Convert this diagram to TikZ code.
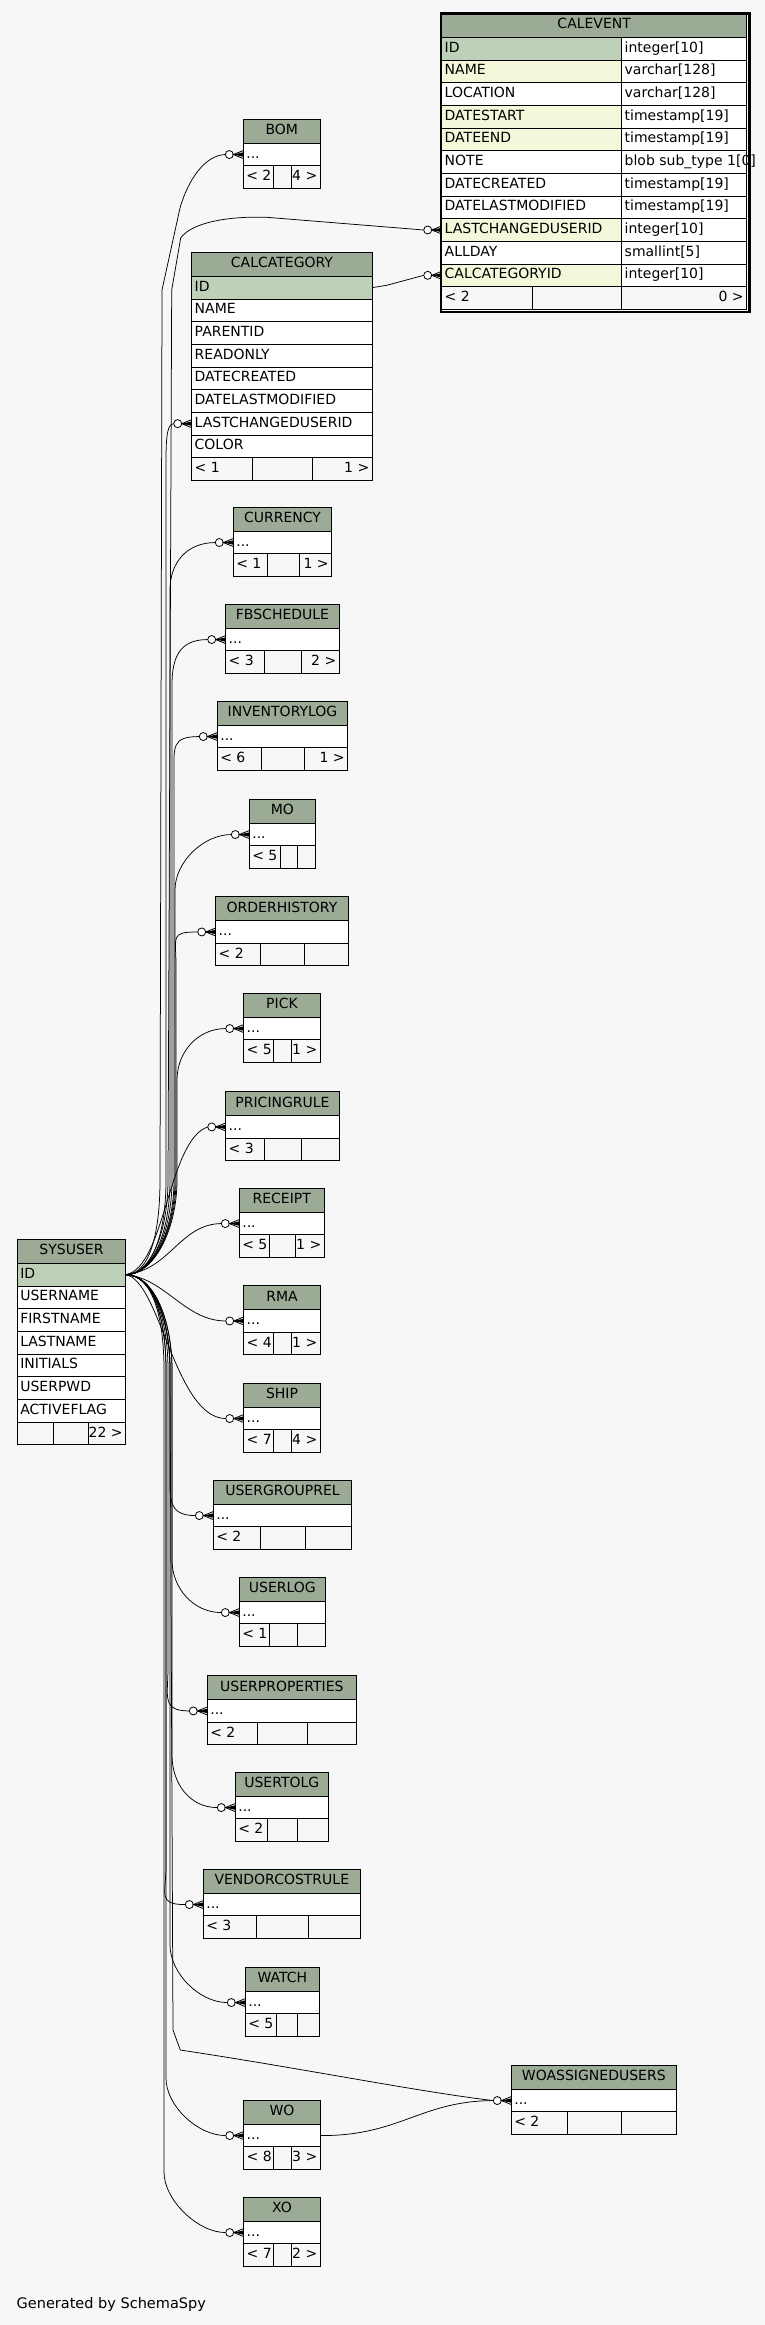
\documentclass[tikz,border=0pt]{standalone}
\usepackage{fontspec}
\setmainfont{DejaVu Sans}
\definecolor{bg}{HTML}{F7F7F7}
\definecolor{hd}{HTML}{9CAB96}
\definecolor{pk}{HTML}{BED1B8}
\definecolor{ix}{HTML}{F4F7DA}
\newcommand\cellL[7]{%
 \node[cellbox, fill=#6, minimum width=#4pt, minimum height=#5pt] (#1) at (#2,#3) {};
 \node[txt, anchor=base west] (#1-t) at ([xshift=3pt,yshift=-15pt]#1.north west) {#7};}
\newcommand\cellR[7]{%
 \node[cellbox, fill=#6, minimum width=#4pt, minimum height=#5pt] (#1) at (#2,#3) {};
 \node[txt, anchor=base east] (#1-t) at ([xshift=-3pt,yshift=-15pt]#1.north east) {#7};}
\newcommand\cellC[7]{%
 \node[cellbox, fill=#6, minimum width=#4pt, minimum height=#5pt] (#1) at (#2,#3) {};
 \node[txt, anchor=base] (#1-t) at ([yshift=-15.5pt]#1.north) {#7};}
\newcommand\childtbl[9]{%
 \pgfmathsetmacro\ya{#4+24}\pgfmathsetmacro\yb{#4+46.5}%
 \pgfmathsetmacro\wa{#6-#3}\pgfmathsetmacro\wb{#7-#6}\pgfmathsetmacro\wc{#3+#5-#7}%
 \cellC{#1-h}{#3}{#4}{#5}{24}{hd}{#2}%
 \cellL{#1-r}{#3}{\ya}{#5}{22.5}{white}{...}%
 \cellL{#1-f1}{#3}{\yb}{\wa}{22.5}{bg}{#8}%
 \cellL{#1-f2}{#6}{\yb}{\wb}{22.5}{bg}{}%
 \cellR{#1-f3}{#7}{\yb}{\wc}{22.5}{bg}{#9}%
 \coordinate (#1-c) at ([xshift=-18pt]#1-r.west);}
\newcommand\crowmark[1]{%
 \draw[mk, fill=white] ([xshift=-14pt]#1.west) circle[radius=4pt];
 \fill ([xshift=-10pt]#1.west) -- ([yshift=2.2pt]#1.west) -- ([yshift=-2.2pt]#1.west) -- cycle;
 \draw[mk] ([yshift=4pt]#1.west) -- ([xshift=-10pt]#1.west) -- ([yshift=-4pt]#1.west)
   ([xshift=-10pt]#1.west) -- (#1.west);}
\newcommand\cerow[4]{\pgfmathsetmacro\yy{37.3+22.67*#1}%
 \cellL{CE-n#1}{441.7}{\yy}{180}{22.67}{#3}{#2}%
 \cellL{CE-t#1}{621.7}{\yy}{125}{22.67}{white}{#4}%
 \coordinate (CE-n#1-c) at ([xshift=-18pt]CE-n#1.west);}
\newcommand\ccrow[3]{\pgfmathsetmacro\yy{276.3+22.67*#1}%
 \cellL{CC-n#1}{191.7}{\yy}{180.6}{22.67}{#3}{#2}%
 \coordinate (CC-n#1-c) at ([xshift=-18pt]CC-n#1.west);}
\newcommand\surow[3]{\pgfmathsetmacro\yy{1263.3+22.67*#1}%
 \cellL{SU-n#1}{17.3}{\yy}{108.4}{22.67}{#3}{#2}}
\newcommand\upedge[3]{%
 \draw[rel] (SU-n0.east) .. controls +(28,0) and +(0,50) .. (#2,1180) -- (#2,#3)
   .. controls +(0,-28) and +(-28,0) .. (#1-c);}
\newcommand\downedge[3]{%
 \draw[rel] (SU-n0.east) .. controls +(28,0) and +(0,-50) .. (#2,1370) -- (#2,#3)
   .. controls +(0,28) and +(-28,0) .. (#1-c);}
\begin{document}
\begin{tikzpicture}[x=1pt,y=-1pt,
 cellbox/.style={draw=black, line width=0.9pt, anchor=north west, inner sep=0pt, outer sep=0pt},
 txt/.style={inner sep=0pt, outer sep=0pt, font=\fontsize{14}{16}\selectfont, text=black},
 rel/.style={draw=black, line width=0.75pt},
 mk/.style={draw=black, line width=0.8pt}]
\fill[bg] (0,0) rectangle (765,2325);
\useasboundingbox (0,0) rectangle (765,2325);

% CALEVENT
\cellC{CE-h}{441.7}{13.3}{305}{24}{hd}{CALEVENT}
\cerow{0}{ID}{pk}{integer[10]}
\cerow{1}{NAME}{ix}{varchar[128]}
\cerow{2}{LOCATION}{white}{varchar[128]}
\cerow{3}{DATESTART}{ix}{timestamp[19]}
\cerow{4}{DATEEND}{ix}{timestamp[19]}
\cerow{5}{NOTE}{white}{blob sub\_type 1[0]}
\cerow{6}{DATECREATED}{white}{timestamp[19]}
\cerow{7}{DATELASTMODIFIED}{white}{timestamp[19]}
\cerow{8}{LASTCHANGEDUSERID}{ix}{integer[10]}
\cerow{9}{ALLDAY}{white}{smallint[5]}
\cerow{10}{CALCATEGORYID}{ix}{integer[10]}
\cellL{CE-f1}{441.7}{286.7}{90.6}{22.67}{bg}{< 2}
\cellL{CE-f2}{532.3}{286.7}{89.4}{22.67}{bg}{}
\cellR{CE-f3}{621.7}{286.7}{125}{22.67}{bg}{0 >}
\node[draw, line width=2.6pt, anchor=north west, inner sep=0pt, minimum width=308.5pt, minimum height=298.5pt] (CE-frame) at (439.5,12) {};

% CALCATEGORY
\cellC{CC-h}{191.7}{252.3}{180.6}{24}{hd}{CALCATEGORY}
\ccrow{0}{ID}{pk}
\ccrow{1}{NAME}{white}
\ccrow{2}{PARENTID}{white}
\ccrow{3}{READONLY}{white}
\ccrow{4}{DATECREATED}{white}
\ccrow{5}{DATELASTMODIFIED}{white}
\ccrow{6}{LASTCHANGEDUSERID}{white}
\ccrow{7}{COLOR}{white}
\cellL{CC-f1}{191.7}{457.7}{61}{22.67}{bg}{< 1}
\cellL{CC-f2}{252.7}{457.7}{60}{22.67}{bg}{}
\cellR{CC-f3}{312.7}{457.7}{59.6}{22.67}{bg}{1 >}

% SYSUSER
\cellC{SU-h}{17.3}{1239.3}{108.4}{24}{hd}{SYSUSER}
\surow{0}{ID}{pk}
\surow{1}{USERNAME}{white}
\surow{2}{FIRSTNAME}{white}
\surow{3}{LASTNAME}{white}
\surow{4}{INITIALS}{white}
\surow{5}{USERPWD}{white}
\surow{6}{ACTIVEFLAG}{white}
\cellL{SU-f1}{17.3}{1422}{36}{22.67}{bg}{}
\cellL{SU-f2}{53.3}{1422}{35}{22.67}{bg}{}
\cellR{SU-f3}{88.3}{1422}{37.4}{22.67}{bg}{22 >}

% child tables
\childtbl{BOM}{BOM}{243.3}{119.3}{77}{273.3}{291.7}{< 2}{4 >}
\childtbl{CUR}{CURRENCY}{233.3}{507.3}{98.4}{267.7}{299.3}{< 1}{1 >}
\childtbl{FBS}{FBSCHEDULE}{225.7}{604.3}{113.6}{264.3}{301.7}{< 3}{2 >}
\childtbl{INV}{INVENTORYLOG}{217.3}{701.3}{130.4}{261.7}{304.3}{< 6}{1 >}
\childtbl{MO}{MO}{249.3}{799.3}{66}{280.3}{297.3}{< 5}{}
\childtbl{ORD}{ORDERHISTORY}{215.7}{896.7}{132.6}{260.3}{304.3}{< 2}{}
\childtbl{PICK}{PICK}{243.7}{993.3}{76.6}{273.7}{291.7}{< 5}{1 >}
\childtbl{PRC}{PRICINGRULE}{225.7}{1091.7}{113.6}{264.3}{301.7}{< 3}{}
\childtbl{REC}{RECEIPT}{239.3}{1188.3}{85}{269.7}{295.7}{< 5}{1 >}
\childtbl{RMA}{RMA}{243.7}{1285.7}{76.6}{273.7}{291.7}{< 4}{1 >}
\childtbl{SHIP}{SHIP}{243.7}{1383.3}{76.6}{273.7}{291.7}{< 7}{4 >}
\childtbl{UGR}{USERGROUPREL}{213.3}{1480.3}{138.4}{260.3}{305.3}{< 2}{}
\childtbl{ULOG}{USERLOG}{239.3}{1577.3}{86}{269.3}{297.3}{< 1}{}
\childtbl{UPR}{USERPROPERTIES}{207.3}{1675.7}{149}{257.3}{307.3}{< 2}{}
\childtbl{UTOLG}{USERTOLG}{235.3}{1772.3}{93}{267.3}{297.3}{< 2}{}
\childtbl{VCR}{VENDORCOSTRULE}{203.3}{1869.3}{157}{256.7}{308.3}{< 3}{}
\childtbl{WATCH}{WATCH}{245.3}{1967.3}{74}{276.3}{297.3}{< 5}{}
\childtbl{WO}{WO}{243.7}{2100.3}{76.6}{273.3}{291.7}{< 8}{3 >}
\childtbl{XO}{XO}{243.7}{2197.3}{76.6}{273.3}{291.7}{< 7}{2 >}
\childtbl{WOAU}{WOASSIGNEDUSERS}{511.3}{2065.3}{165}{567.3}{621.3}{< 2}{}

% connectors
\draw[rel] (SU-n0.east) .. controls +(25,0) and +(0,50) .. (160,1180) -- (162,290) -- (180,208)
   .. controls (188,180) and (205,155) .. (BOM-c);
\draw[rel] (SU-n0.east) .. controls +(26,0) and +(0,50) .. (168,1180) -- (171.7,290) -- (180.7,238)
   .. controls (192,222) and (230,216) .. (266.7,217.3) -- (CE-n8-c);
\draw[rel] (SU-n0.east) .. controls +(28,0) and +(0,50) .. (166,1180) -- (166,470)
   .. controls +(0,-25) and +(-8,0) .. (CC-n6-c);
\draw[rel] (CC-n0.east) -- (386.7,285.3) -- (CE-n10-c);
\upedge{CUR}{170}{590}
\upedge{FBS}{172}{685}
\upedge{INV}{174}{775}
\upedge{MO}{175}{890}
\upedge{ORD}{176}{965}
\upedge{PICK}{177}{1080}
\draw[rel] (SU-n0.east) .. controls (165,1268) and (168,1140) .. (PRC-c);
\draw[rel] (SU-n0.east) .. controls (170,1270) and (180,1224) .. (REC-c);
\draw[rel] (SU-n0.east) .. controls (165,1278) and (185,1321) .. (RMA-c);
\draw[rel] (SU-n0.east) .. controls (160,1280) and (175,1418) .. (SHIP-c);
\downedge{UGR}{170}{1470}
\downedge{ULOG}{172}{1560}
\downedge{UPR}{168}{1668}
\downedge{UTOLG}{172}{1755}
\downedge{VCR}{166}{1866}
\downedge{WATCH}{170}{1945}
\downedge{WO}{166}{2078}
\downedge{XO}{164}{2172}
\draw[rel] (SU-n0.east) .. controls +(28,0) and +(0,-50) .. (170,1370) -- (173,2030) -- (180.3,2050)
   .. controls (300,2068) and (420,2092) .. (WOAU-c);
\draw[rel] (WO-r.east) .. controls (400,2136) and (420,2101) .. (WOAU-c);

% markers
\foreach \t in {BOM,CUR,FBS,INV,MO,ORD,PICK,PRC,REC,RMA,SHIP,UGR,ULOG,UPR,UTOLG,VCR,WATCH,WO,XO,WOAU}
  {\crowmark{\t-r}}
\crowmark{CE-n8}
\crowmark{CE-n10}
\crowmark{CC-n6}

\node[txt, font=\fontsize{14.5}{16}\selectfont, anchor=base west] (gen) at (16.7,2308) {Generated by SchemaSpy};
\end{tikzpicture}
\end{document}
